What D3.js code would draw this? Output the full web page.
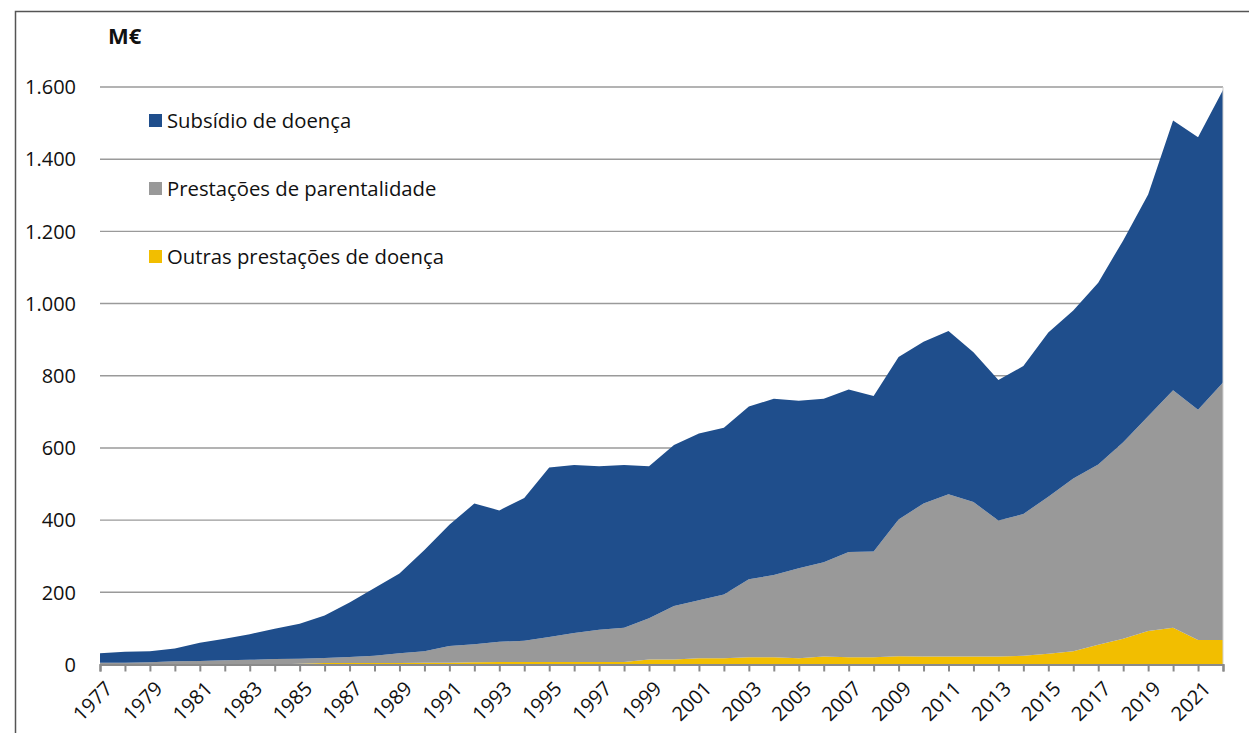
<!DOCTYPE html>
<html>
<head>
<meta charset="utf-8">
<script src="https://cdn.jsdelivr.net/npm/d3@7/dist/d3.min.js"></script>
<style>
  body { margin: 0; background: #fff; }
  svg { display: block; font-family: "Open Sans", "Noto Sans", sans-serif; }
</style>
</head>
<body>
<svg id="chart" width="1249" height="733"></svg>
<script>
let years = d3.range(1977, 2023);

// Outras prestações de doença (M€)
let outras = [0, 0, 0, 0, 0, 0, 0, 0, 2, 4,
    4, 4, 4, 5, 5, 6, 7, 7, 7, 7,
    7, 7, 14, 14, 17, 17, 20, 20, 17, 22,
    20, 20, 23, 22, 22, 22, 22, 24, 30, 37,
    55, 71, 93, 102, 68, 68];

// Prestações de parentalidade (M€)
let parentalidade = [5, 5, 6, 9, 10, 12, 13, 15, 14, 14,
    17, 20, 27, 32, 46, 50, 56, 59, 69, 80,
    89, 95, 114, 148, 161, 177, 216, 228, 250, 261,
    292, 293, 379, 424, 450, 428, 377, 393, 435, 478,
    499, 545, 595, 658, 638, 713];

// Subsídio de doença (M€)
let subsidio = [26, 30, 31, 35, 50, 59, 71, 84, 97, 118,
    151, 188, 221, 280, 336, 390, 364, 395, 470, 466,
    453, 451, 421, 446, 462, 462, 479, 488, 464, 453,
    450, 431, 450, 448, 452, 415, 389, 410, 455, 466,
    504, 559, 614, 747, 755, 811];

let seriesNames = ["Outras prestações de doença", "Prestações de parentalidade", "Subsídio de doença"];
let seriesKeys = ["outras", "parentalidade", "subsidio"];
let colors = ["#F2BE00", "#999999", "#1F4E8C"];
let yTicks = [0, 200, 400, 600, 800, 1000, 1200, 1400, 1600];

let margin = {top: 87, right: 26, bottom: 69, left: 100},
    width = 1249 - margin.left - margin.right,
    height = 733 - margin.top - margin.bottom;

let svg = d3.select("#chart");

// outer frame (left and top edges visible)
svg.append("path")
    .attr("d", "M15.5,733 V11.5 H1249")
    .attr("fill", "none")
    .attr("stroke", "#555")
    .attr("stroke-width", 1.5);

let g = svg.append("g")
    .attr("transform", "translate(" + margin.left + "," + margin.top + ")");

let x = d3.scaleLinear()
    .domain([1977, 2022])
    .range([0, width]);

let y = d3.scaleLinear()
    .domain([0, 1600])
    .range([height + 0.5, 0]);

let table = years.map(function (yr, i) {
    return {year: yr, outras: outras[i], parentalidade: parentalidade[i], subsidio: subsidio[i]};
});

// gridlines
g.append("g")
    .selectAll("line")
    .data(yTicks.filter(function (d) { return d > 0; }))
    .enter().append("line")
    .attr("x1", 0)
    .attr("x2", width)
    .attr("y1", function (d) { return y(d); })
    .attr("y2", function (d) { return y(d); })
    .attr("stroke", "#9a9a9a")
    .attr("stroke-width", 1.4);

// stacked areas
let stack = d3.stack().keys(seriesKeys);
let layers = stack(table);

let area = d3.area()
    .x(function (d) { return x(d.data.year); })
    .y0(function (d) { return y(d[0]); })
    .y1(function (d) { return y(d[1]); });

g.selectAll(".layer")
    .data(layers)
    .enter().append("path")
    .attr("class", "layer")
    .attr("d", area)
    .attr("fill", function (d, i) { return colors[i]; });

// right edge line
g.append("line")
    .attr("x1", width).attr("x2", width)
    .attr("y1", 0).attr("y2", height)
    .attr("stroke", "#d0d0d0")
    .attr("stroke-width", 1);

// y axis labels
g.append("g")
    .selectAll("text")
    .data(yTicks)
    .enter().append("text")
    .attr("x", -24)
    .attr("y", function (d) { return y(d); })
    .attr("dy", "0.36em")
    .attr("text-anchor", "end")
    .attr("font-size", 20)
    .attr("fill", "#111")
    .text(function (d) { return d3.format(",")(d).replace(/,/g, "."); });

// x axis
let xAxis = d3.axisBottom(x)
    .tickValues(years)
    .tickSize(7)
    .tickFormat("");
let xg = g.append("g")
    .attr("transform", "translate(0," + (height + 0.5) + ")")
    .call(xAxis);
xg.select(".domain").attr("stroke", "#8a8a8a").attr("stroke-width", 2.2);
xg.selectAll(".tick line").attr("stroke", "#8a8a8a").attr("stroke-width", 2);

g.append("g")
    .selectAll("text")
    .data(years.filter(function (d) { return (d - 1977) % 2 === 0; }))
    .enter().append("text")
    .attr("transform", function (d) {
        return "translate(" + (x(d) + 4) + "," + (height + 16) + ") rotate(-45)";
    })
    .attr("dy", "0.7em")
    .attr("text-anchor", "end")
    .attr("font-size", 20)
    .attr("fill", "#111")
    .text(function (d) { return d; });

// unit label
svg.append("text")
    .attr("x", 108)
    .attr("y", 44)
    .attr("font-size", 22)
    .attr("font-weight", "bold")
    .attr("fill", "#111")
    .text("M€");

// legend (top to bottom: subsidio, parentalidade, outras)
let legendOrder = [2, 1, 0];
let legend = svg.append("g")
    .selectAll("g")
    .data(legendOrder)
    .enter().append("g")
    .attr("transform", function (d, i) { return "translate(149," + (114 + i * 68) + ")"; });

legend.append("rect")
    .attr("width", 13)
    .attr("height", 13)
    .attr("fill", function (d) { return colors[d]; });

legend.append("text")
    .attr("x", 18)
    .attr("y", 6.5)
    .attr("dy", "0.36em")
    .attr("font-size", 20.3)
    .attr("fill", "#111")
    .text(function (d) { return seriesNames[d]; });
</script>
</body>
</html>
